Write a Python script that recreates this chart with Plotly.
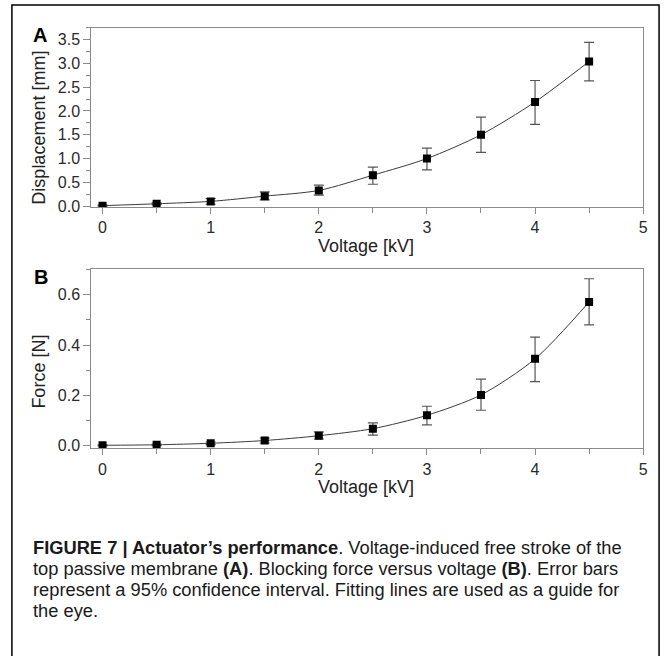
import plotly.graph_objects as go

W, H = 672, 656

voltage = [0, 0.5, 1, 1.5, 2, 2.5, 3, 3.5, 4, 4.5]

disp = [0.01, 0.05, 0.10, 0.21, 0.33, 0.65, 1.00, 1.50, 2.19, 3.04]
disp_hi = [0.02, 0.07, 0.16, 0.30, 0.44, 0.82, 1.22, 1.87, 2.64, 3.44]
disp_lo = [0.00, 0.03, 0.04, 0.13, 0.23, 0.46, 0.76, 1.13, 1.72, 2.63]

force = [0.002, 0.004, 0.010, 0.021, 0.040, 0.068, 0.121, 0.202, 0.345, 0.571]
force_hi = [0.004, 0.007, 0.015, 0.031, 0.055, 0.091, 0.157, 0.265, 0.431, 0.663]
force_lo = [0.000, 0.001, 0.005, 0.011, 0.027, 0.042, 0.083, 0.141, 0.255, 0.480]

x_ticks = [0, 1, 2, 3, 4, 5]
disp_ticks = [0.0, 0.5, 1.0, 1.5, 2.0, 2.5, 3.0, 3.5]
force_ticks = [0.0, 0.2, 0.4, 0.6]

caption_lines = [
    "<b>FIGURE 7 | Actuator’s performance</b>. Voltage-induced free stroke of the",
    "top passive membrane <b>(A)</b>. Blocking force versus voltage <b>(B)</b>. Error bars",
    "represent a 95% confidence interval. Fitting lines are used as a guide for",
    "the eye.",
]

FONT = "Liberation Sans, Arial, sans-serif"
AXC = "#8a8a8a"


def px_x(p):
    return p / W


def px_y(p):
    return 1 - p / H


fig = go.Figure()


def add_panel(xa, ya, y, hi, lo):
    fig.add_trace(go.Scatter(
        x=voltage, y=y, mode="lines", line=dict(color="#3a3a3a", width=1, shape="spline", smoothing=0.8),
        xaxis=xa, yaxis=ya, hoverinfo="skip", showlegend=False))
    fig.add_trace(go.Scatter(
        x=voltage, y=y, mode="markers",
        marker=dict(symbol="square", size=8, color="black", line=dict(width=0)),
        error_y=dict(type="data", symmetric=False,
                     array=[h - v for h, v in zip(hi, y)],
                     arrayminus=[v - l for v, l in zip(y, lo)],
                     color="#555555", thickness=1.2, width=5),
        xaxis=xa, yaxis=ya, showlegend=False))


add_panel("x", "y", disp, disp_hi, disp_lo)
add_panel("x2", "y2", force, force_hi, force_lo)

tickfont = dict(family=FONT, size=16, color="#2a2a2a")

common_x = dict(range=[-0.104, 5.0], tickvals=x_ticks, ticks="outside", ticklen=6, tickcolor=AXC,
                showline=True, linecolor=AXC, linewidth=1, mirror=True, showgrid=False,
                zeroline=False, tickfont=tickfont,
                minor=dict(dtick=0.5, tick0=0, ticks="outside", ticklen=5, tickcolor=AXC))
common_y = dict(ticks="outside", ticklen=7, tickcolor=AXC, showline=True, linecolor=AXC,
                linewidth=1, mirror=True, showgrid=False, zeroline=False, tickfont=tickfont)

fig.update_layout(
    width=W, height=H, margin=dict(l=0, r=0, t=0, b=0),
    paper_bgcolor="white", plot_bgcolor="white",
    xaxis=dict(domain=[px_x(92), px_x(648)], anchor="y", **common_x),
    yaxis=dict(domain=[px_y(209.5), px_y(28)], anchor="x", range=[-0.017, 3.75],
               tickvals=disp_ticks, ticktext=[f"{v:.1f}" for v in disp_ticks],
               minor=dict(dtick=0.25, tick0=0, ticks="outside", ticklen=4, tickcolor=AXC),
               **common_y),
    xaxis2=dict(domain=[px_x(92), px_x(648)], anchor="y2", **common_x),
    yaxis2=dict(domain=[px_y(454), px_y(272.5)], anchor="x2", range=[-0.0106, 0.701],
                tickvals=force_ticks, ticktext=[f"{v:.1f}" for v in force_ticks],
                minor=dict(dtick=0.1, tick0=0, ticks="outside", ticklen=4, tickcolor=AXC),
                **common_y),
)

ann = []
titlefont = dict(family=FONT, size=18, color="#222222")
# panel letters
ann.append(dict(text="<b>A</b>", x=px_x(40), y=px_y(35.5), xref="paper", yref="paper",
                showarrow=False, xanchor="center", yanchor="middle",
                font=dict(family=FONT, size=20, color="black")))
ann.append(dict(text="<b>B</b>", x=px_x(41), y=px_y(280), xref="paper", yref="paper",
                showarrow=False, xanchor="center", yanchor="middle",
                font=dict(family=FONT, size=20, color="black")))
# axis titles
ann.append(dict(text="Displacement [mm]", x=px_x(39.5), y=px_y(129), xref="paper", yref="paper",
                showarrow=False, textangle=-90, xanchor="center", yanchor="middle", font=titlefont))
ann.append(dict(text="Force [N]", x=px_x(39.5), y=px_y(376), xref="paper", yref="paper",
                showarrow=False, textangle=-90, xanchor="center", yanchor="middle", font=titlefont))
ann.append(dict(text="Voltage [kV]", x=px_x(369), y=px_y(249), xref="paper", yref="paper",
                showarrow=False, xanchor="center", yanchor="middle", font=titlefont))
ann.append(dict(text="Voltage [kV]", x=px_x(369), y=px_y(493), xref="paper", yref="paper",
                showarrow=False, xanchor="center", yanchor="middle", font=titlefont))
# caption
cap_y = [554, 575.5, 597, 618.5]
for line, cy in zip(caption_lines, cap_y):
    ann.append(dict(text=line, x=px_x(31), y=px_y(cy), xref="paper", yref="paper",
                    showarrow=False, xanchor="left", yanchor="middle",
                    font=dict(family=FONT, size=18.3, color="#1a1a1a")))
fig.update_layout(annotations=ann)

fig.add_shape(type="rect", xref="paper", yref="paper",
              x0=px_x(12), x1=px_x(664), y0=-0.05, y1=px_y(5),
              line=dict(color="black", width=1.5), fillcolor="rgba(0,0,0,0)", layer="above")

fig.write_html("out.html", config={"displayModeBar": False},
               post_script="document.body.style.margin='0';document.body.style.overflow='hidden';")
